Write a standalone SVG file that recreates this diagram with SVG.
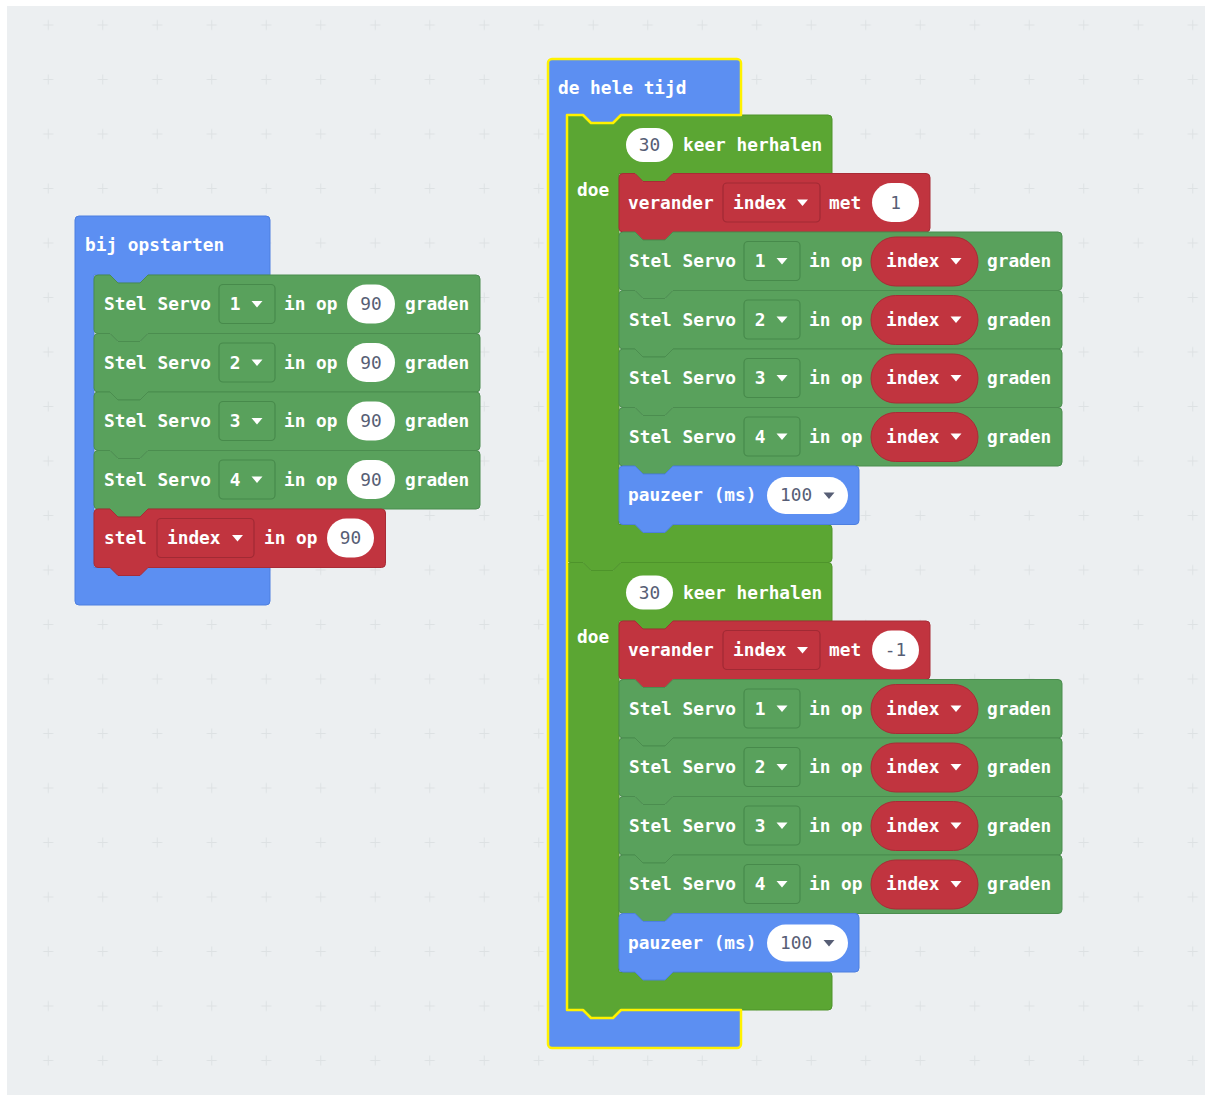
<svg xmlns="http://www.w3.org/2000/svg" width="1207" height="1097" viewBox="0 0 1207 1097">
<style>
.t{font-family:"DejaVu Sans Mono","Liberation Mono",monospace;font-size:17.8px;font-weight:bold;fill:#fff}
.n{fill:#575e75;text-anchor:middle;font-weight:normal}
.m{text-anchor:middle}
.blue{fill:#5c8ff2;stroke:#4d7fe0;stroke-width:1}
.grn{fill:#59a15c;stroke:#4b8d4f;stroke-width:1}
.loop{fill:#5ba633;stroke:#4e942b;stroke-width:1}
.red{fill:#c1343f;stroke:#a82c36;stroke-width:1}
.ddg{fill:#59a15c;stroke:#478a4b;stroke-width:1.2}
.ddr{fill:#c1343f;stroke:#a12a34;stroke-width:1.2}
.wo{fill:#fff}
.tw{fill:#fff}
.td{fill:#575e75}
.dk{fill:#575e75;font-weight:normal}
.sel{fill:none;stroke:#fff200;stroke-width:2.5;stroke-linejoin:round}
</style>
<defs>
<pattern id="grid" x="21" y="-2.25" width="54.5" height="54.5" patternUnits="userSpaceOnUse"><path d="M22.25,27.25h10M27.25,22.25v10" stroke="#dde1e3" stroke-width="1"/></pattern>
<path id="svL" d="M0,4 a4,4 0 0 1 4,-4 H16 l8,8 h22 l8,-8 H382 a4,4 0 0 1 4,4 V54.5 a4,4 0 0 1 -4,4 H54 l-8,8 h-22 l-8,-8 H4 a4,4 0 0 1 -4,-4 Z"/>
<path id="svR" d="M0,4 a4,4 0 0 1 4,-4 H16 l8,8 h22 l8,-8 H439 a4,4 0 0 1 4,4 V54.5 a4,4 0 0 1 -4,4 H54 l-8,8 h-22 l-8,-8 H4 a4,4 0 0 1 -4,-4 Z"/>
<path id="stel" d="M0,4 a4,4 0 0 1 4,-4 H16 l8,8 h22 l8,-8 H287.5 a4,4 0 0 1 4,4 V54.5 a4,4 0 0 1 -4,4 H54 l-8,8 h-22 l-8,-8 H4 a4,4 0 0 1 -4,-4 Z"/>
<path id="ver" d="M0,4 a4,4 0 0 1 4,-4 H16 l8,8 h22 l8,-8 H307 a4,4 0 0 1 4,4 V54.5 a4,4 0 0 1 -4,4 H54 l-8,8 h-22 l-8,-8 H4 a4,4 0 0 1 -4,-4 Z"/>
<path id="pz" d="M0,4 a4,4 0 0 1 4,-4 H16 l8,8 h22 l8,-8 H236 a4,4 0 0 1 4,4 V54.5 a4,4 0 0 1 -4,4 H54 l-8,8 h-22 l-8,-8 H4 a4,4 0 0 1 -4,-4 Z"/>
<path id="loopC" d="M0,4 a4,4 0 0 1 4,-4 H16 l8,8 h22 l8,-8 H261 a4,4 0 0 1 4,4 V58.5 H106 l-8,8 h-22 l-8,-8 H52 V409.5 H261 a4,4 0 0 1 4,4 V443.5 a4,4 0 0 1 -4,4 H54 l-8,8 h-22 l-8,-8 H4 a4,4 0 0 1 -4,-4 Z"/>
<path id="tri" d="M-5.5,-3 h11 l-5.5,6.5 z"/>
</defs>
<rect x="0" y="0" width="1207" height="1097" fill="#fff"/>
<rect x="7" y="6" width="1198" height="1089" fill="#eceff1"/>
<rect x="7" y="6" width="1198" height="1089" fill="url(#grid)"/>

<g id="connectors"/>

<!-- bij opstarten -->
<g id="bij-opstarten">
<path class="blue" d="M75,220 a4,4 0 0 1 4,-4 H266 a4,4 0 0 1 4,4 V275 H148 l-8,8 h-22 l-8,-8 H94 V567.5 H270 V601 a4,4 0 0 1 -4,4 H79 a4,4 0 0 1 -4,-4 Z"/>
<text class="t" x="85" y="251">bij opstarten</text>

<g id="l-servo1" transform="translate(94,275)">
<use href="#svL" class="grn"/>
<text class="t" x="10" y="35">Stel Servo</text>
<rect class="ddg" x="125" y="9.5" width="56" height="39" rx="4"/>
<text class="t m" x="141" y="35">1</text>
<use href="#tri" class="tw" x="163" y="29"/>
<text class="t" x="190" y="35">in op</text>
<rect class="wo" x="253" y="9.5" width="48" height="39" rx="19.5"/>
<text class="t n" x="277" y="35">90</text>
<text class="t" x="311" y="35">graden</text>
</g>
<g id="l-servo2" transform="translate(94,333.5)">
<use href="#svL" class="grn"/>
<text class="t" x="10" y="35">Stel Servo</text>
<rect class="ddg" x="125" y="9.5" width="56" height="39" rx="4"/>
<text class="t m" x="141" y="35">2</text>
<use href="#tri" class="tw" x="163" y="29"/>
<text class="t" x="190" y="35">in op</text>
<rect class="wo" x="253" y="9.5" width="48" height="39" rx="19.5"/>
<text class="t n" x="277" y="35">90</text>
<text class="t" x="311" y="35">graden</text>
</g>
<g id="l-servo3" transform="translate(94,392)">
<use href="#svL" class="grn"/>
<text class="t" x="10" y="35">Stel Servo</text>
<rect class="ddg" x="125" y="9.5" width="56" height="39" rx="4"/>
<text class="t m" x="141" y="35">3</text>
<use href="#tri" class="tw" x="163" y="29"/>
<text class="t" x="190" y="35">in op</text>
<rect class="wo" x="253" y="9.5" width="48" height="39" rx="19.5"/>
<text class="t n" x="277" y="35">90</text>
<text class="t" x="311" y="35">graden</text>
</g>
<g id="l-servo4" transform="translate(94,450.5)">
<use href="#svL" class="grn"/>
<text class="t" x="10" y="35">Stel Servo</text>
<rect class="ddg" x="125" y="9.5" width="56" height="39" rx="4"/>
<text class="t m" x="141" y="35">4</text>
<use href="#tri" class="tw" x="163" y="29"/>
<text class="t" x="190" y="35">in op</text>
<rect class="wo" x="253" y="9.5" width="48" height="39" rx="19.5"/>
<text class="t n" x="277" y="35">90</text>
<text class="t" x="311" y="35">graden</text>
</g>
<g id="l-stel" transform="translate(94,509)">
<use href="#stel" class="red"/>
<text class="t" x="10" y="35">stel</text>
<rect class="ddr" x="63" y="9.5" width="97" height="39" rx="4"/>
<text class="t" x="73" y="35">index</text>
<use href="#tri" class="tw" x="143.5" y="29"/>
<text class="t" x="170" y="35">in op</text>
<rect class="wo" x="233" y="9.5" width="47" height="39" rx="19.5"/>
<text class="t n" x="256.5" y="35">90</text>
</g>
</g>

<!-- de hele tijd -->
<g id="de-hele-tijd">
<path class="blue" d="M548,63 a4,4 0 0 1 4,-4 H737 a4,4 0 0 1 4,4 V115 H621 l-8,8 h-22 l-8,-8 H567 V1010 H583 l8,8 h22 l8,-8 H741 V1044 a4,4 0 0 1 -4,4 H552 a4,4 0 0 1 -4,-4 Z"/>
<text class="t" x="558" y="94">de hele tijd</text>

<g id="loop1">
<g id="loop1-herhalen" transform="translate(567,115)">
<use href="#loopC" class="loop"/>
<rect class="wo" x="59" y="13" width="47" height="34" rx="17"/>
<text class="t n" x="82.5" y="36">30</text>
<text class="t" x="116" y="36">keer herhalen</text>
<text class="t" x="10" y="81">doe</text>
</g>
<g id="loop1-verander" transform="translate(619,173.5)">
<use href="#ver" class="red"/>
<text class="t" x="9" y="35">verander</text>
<rect class="ddr" x="104" y="9.5" width="97" height="39" rx="4"/>
<text class="t" x="114" y="35">index</text>
<use href="#tri" class="tw" x="183.5" y="29"/>
<text class="t" x="210" y="35">met</text>
<rect class="wo" x="253" y="9.5" width="47" height="39" rx="19.5"/>
<text class="t n" x="276.5" y="35">1</text>
</g>
<g id="loop1-servo1" transform="translate(619,232)">
<use href="#svR" class="grn"/>
<text class="t" x="10" y="35">Stel Servo</text>
<rect class="ddg" x="125" y="9.5" width="56" height="39" rx="4"/>
<text class="t m" x="141" y="35">1</text>
<use href="#tri" class="tw" x="163" y="29"/>
<text class="t" x="190" y="35">in op</text>
<rect class="red" x="252" y="5" width="107" height="49" rx="24.5"/>
<text class="t" x="267" y="35">index</text>
<use href="#tri" class="tw" x="337" y="29"/>
<text class="t" x="368" y="35">graden</text>
</g>
<g id="loop1-servo2" transform="translate(619,290.5)">
<use href="#svR" class="grn"/>
<text class="t" x="10" y="35">Stel Servo</text>
<rect class="ddg" x="125" y="9.5" width="56" height="39" rx="4"/>
<text class="t m" x="141" y="35">2</text>
<use href="#tri" class="tw" x="163" y="29"/>
<text class="t" x="190" y="35">in op</text>
<rect class="red" x="252" y="5" width="107" height="49" rx="24.5"/>
<text class="t" x="267" y="35">index</text>
<use href="#tri" class="tw" x="337" y="29"/>
<text class="t" x="368" y="35">graden</text>
</g>
<g id="loop1-servo3" transform="translate(619,349)">
<use href="#svR" class="grn"/>
<text class="t" x="10" y="35">Stel Servo</text>
<rect class="ddg" x="125" y="9.5" width="56" height="39" rx="4"/>
<text class="t m" x="141" y="35">3</text>
<use href="#tri" class="tw" x="163" y="29"/>
<text class="t" x="190" y="35">in op</text>
<rect class="red" x="252" y="5" width="107" height="49" rx="24.5"/>
<text class="t" x="267" y="35">index</text>
<use href="#tri" class="tw" x="337" y="29"/>
<text class="t" x="368" y="35">graden</text>
</g>
<g id="loop1-servo4" transform="translate(619,407.5)">
<use href="#svR" class="grn"/>
<text class="t" x="10" y="35">Stel Servo</text>
<rect class="ddg" x="125" y="9.5" width="56" height="39" rx="4"/>
<text class="t m" x="141" y="35">4</text>
<use href="#tri" class="tw" x="163" y="29"/>
<text class="t" x="190" y="35">in op</text>
<rect class="red" x="252" y="5" width="107" height="49" rx="24.5"/>
<text class="t" x="267" y="35">index</text>
<use href="#tri" class="tw" x="337" y="29"/>
<text class="t" x="368" y="35">graden</text>
</g>
<g id="loop1-pauzeer" transform="translate(619,466)">
<use href="#pz" class="blue"/>
<text class="t" x="9" y="35">pauzeer (ms)</text>
<rect class="wo" x="148" y="11" width="81" height="37" rx="18.5"/>
<text class="t dk" x="161" y="35">100</text>
<use href="#tri" class="td" x="210" y="29.5"/>
</g>
</g>

<g id="loop2">
<g id="loop2-herhalen" transform="translate(567,562.5)">
<use href="#loopC" class="loop"/>
<rect class="wo" x="59" y="13" width="47" height="34" rx="17"/>
<text class="t n" x="82.5" y="36">30</text>
<text class="t" x="116" y="36">keer herhalen</text>
<text class="t" x="10" y="80">doe</text>
</g>
<g id="loop2-verander" transform="translate(619,621)">
<use href="#ver" class="red"/>
<text class="t" x="9" y="35">verander</text>
<rect class="ddr" x="104" y="9.5" width="97" height="39" rx="4"/>
<text class="t" x="114" y="35">index</text>
<use href="#tri" class="tw" x="183.5" y="29"/>
<text class="t" x="210" y="35">met</text>
<rect class="wo" x="253" y="9.5" width="47" height="39" rx="19.5"/>
<text class="t n" x="276.5" y="35">-1</text>
</g>
<g id="loop2-servo1" transform="translate(619,679.5)">
<use href="#svR" class="grn"/>
<text class="t" x="10" y="35">Stel Servo</text>
<rect class="ddg" x="125" y="9.5" width="56" height="39" rx="4"/>
<text class="t m" x="141" y="35">1</text>
<use href="#tri" class="tw" x="163" y="29"/>
<text class="t" x="190" y="35">in op</text>
<rect class="red" x="252" y="5" width="107" height="49" rx="24.5"/>
<text class="t" x="267" y="35">index</text>
<use href="#tri" class="tw" x="337" y="29"/>
<text class="t" x="368" y="35">graden</text>
</g>
<g id="loop2-servo2" transform="translate(619,738)">
<use href="#svR" class="grn"/>
<text class="t" x="10" y="35">Stel Servo</text>
<rect class="ddg" x="125" y="9.5" width="56" height="39" rx="4"/>
<text class="t m" x="141" y="35">2</text>
<use href="#tri" class="tw" x="163" y="29"/>
<text class="t" x="190" y="35">in op</text>
<rect class="red" x="252" y="5" width="107" height="49" rx="24.5"/>
<text class="t" x="267" y="35">index</text>
<use href="#tri" class="tw" x="337" y="29"/>
<text class="t" x="368" y="35">graden</text>
</g>
<g id="loop2-servo3" transform="translate(619,796.5)">
<use href="#svR" class="grn"/>
<text class="t" x="10" y="35">Stel Servo</text>
<rect class="ddg" x="125" y="9.5" width="56" height="39" rx="4"/>
<text class="t m" x="141" y="35">3</text>
<use href="#tri" class="tw" x="163" y="29"/>
<text class="t" x="190" y="35">in op</text>
<rect class="red" x="252" y="5" width="107" height="49" rx="24.5"/>
<text class="t" x="267" y="35">index</text>
<use href="#tri" class="tw" x="337" y="29"/>
<text class="t" x="368" y="35">graden</text>
</g>
<g id="loop2-servo4" transform="translate(619,855)">
<use href="#svR" class="grn"/>
<text class="t" x="10" y="35">Stel Servo</text>
<rect class="ddg" x="125" y="9.5" width="56" height="39" rx="4"/>
<text class="t m" x="141" y="35">4</text>
<use href="#tri" class="tw" x="163" y="29"/>
<text class="t" x="190" y="35">in op</text>
<rect class="red" x="252" y="5" width="107" height="49" rx="24.5"/>
<text class="t" x="267" y="35">index</text>
<use href="#tri" class="tw" x="337" y="29"/>
<text class="t" x="368" y="35">graden</text>
</g>
<g id="loop2-pauzeer" transform="translate(619,913.5)">
<use href="#pz" class="blue"/>
<text class="t" x="9" y="35">pauzeer (ms)</text>
<rect class="wo" x="148" y="11" width="81" height="37" rx="18.5"/>
<text class="t dk" x="161" y="35">100</text>
<use href="#tri" class="td" x="210" y="29.5"/>
</g>
</g>

<path class="sel" d="M548,63 a4,4 0 0 1 4,-4 H737 a4,4 0 0 1 4,4 V115 H621 l-8,8 h-22 l-8,-8 H567 V1010 H583 l8,8 h22 l8,-8 H741 V1044 a4,4 0 0 1 -4,4 H552 a4,4 0 0 1 -4,-4 Z"/>
</g>
</svg>
